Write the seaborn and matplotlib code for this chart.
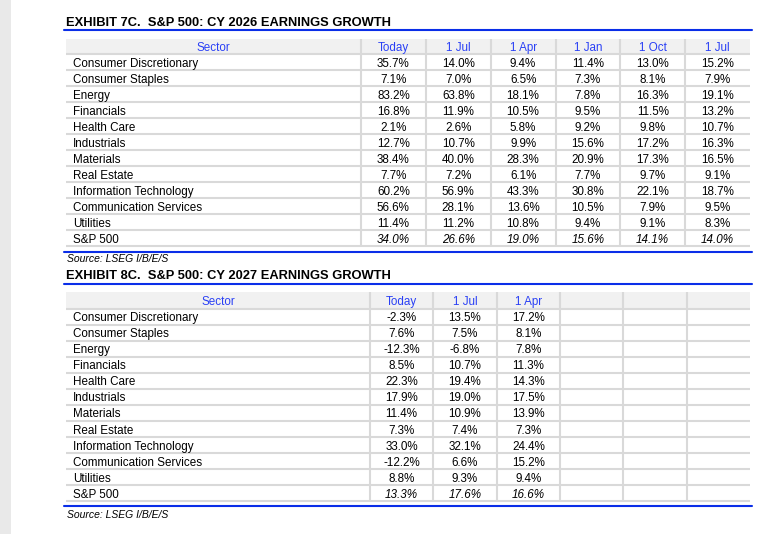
import numpy as np
import matplotlib
matplotlib.use("Agg")
import matplotlib.pyplot as plt
import seaborn as sns
from matplotlib.colors import ListedColormap
from matplotlib.lines import Line2D
from matplotlib.patches import Rectangle

#### Data #######

sectors = ["Consumer Discretionary", "Consumer Staples", "Energy", "Financials",
           "Health Care", "Industrials", "Materials", "Real Estate",
           "Information Technology", "Communication Services", "Utilities", "S&P 500"]

# CY 2026 earnings growth (%)
cols_2026 = ["Today", "1 Jul", "1 Apr", "1 Jan", "1 Oct", "1 Jul"]
today_2026 = [35.7, 7.1, 83.2, 16.8, 2.1, 12.7, 38.4, 7.7, 60.2, 56.6, 11.4, 34.0]
jul_2026 = [14.0, 7.0, 63.8, 11.9, 2.6, 10.7, 40.0, 7.2, 56.9, 28.1, 11.2, 26.6]
apr_2026 = [9.4, 6.5, 18.1, 10.5, 5.8, 9.9, 28.3, 6.1, 43.3, 13.6, 10.8, 19.0]
jan_2026 = [11.4, 7.3, 7.8, 9.5, 9.2, 15.6, 20.9, 7.7, 30.8, 10.5, 9.4, 15.6]
oct_2026 = [13.0, 8.1, 16.3, 11.5, 9.8, 17.2, 17.3, 9.7, 22.1, 7.9, 9.1, 14.1]
jul_prev_2026 = [15.2, 7.9, 19.1, 13.2, 10.7, 16.3, 16.5, 9.1, 18.7, 9.5, 8.3, 14.0]

# CY 2027 earnings growth (%)
cols_2027 = ["Today", "1 Jul", "1 Apr", "", "", ""]
today_2027 = [-2.3, 7.6, -12.3, 8.5, 22.3, 17.9, 11.4, 7.3, 33.0, -12.2, 8.8, 13.3]
jul_2027 = [13.5, 7.5, -6.8, 10.7, 19.4, 19.0, 10.9, 7.4, 32.1, 6.6, 9.3, 17.6]
apr_2027 = [17.2, 8.1, 7.8, 11.3, 14.3, 17.5, 13.9, 7.3, 24.4, 15.2, 9.4, 16.6]

title_2026 = "EXHIBIT 7C.  S&P 500: CY 2026 EARNINGS GROWTH"
title_2027 = "EXHIBIT 8C.  S&P 500: CY 2027 EARNINGS GROWTH"
source = "Source: LSEG I/B/E/S"

#### Style #######

W, H = 772, 534
RULE_BLUE = "#0a2ee8"
HEAD_BLUE = "#2a40f5"
GRID = "#d9d9d9"
HEAD_BG = "#f1f1f1"
FS = 8.4

sns.set_theme(style="white")
plt.rcParams["font.family"] = ["Liberation Sans", "DejaVu Sans"]
plt.rcParams["text.color"] = "black"

fig = plt.figure(figsize=(W / 100, H / 100), dpi=100)
fig.patch.set_facecolor("white")
fig.add_artist(Rectangle((0, 0), 11 / W, 1, transform=fig.transFigure,
                         color="#e9e9e9", lw=0))


def fx(px):
    return px / W


def fy(py):
    return 1 - py / H


def rule(y):
    fig.add_artist(Line2D([fx(64), fx(752)], [fy(y), fy(y)],
                          color=RULE_BLUE, lw=1.5))


def draw_table(top, first_line, last_line, sec_right, columns, series):
    """
    Table drawn as a seaborn heatmap with a sector column on the left
    """
    nrow, ncol = len(sectors), len(columns)
    grid = np.full((nrow, ncol), np.nan)
    for j, s in enumerate(series):
        grid[:, j] = s
    labels = np.array([["" if np.isnan(v) else f"{v:.1f}%" for v in row] for row in grid])

    row_px = (last_line - first_line) / nrow
    head = (first_line - top) / row_px
    col_px = (750 - sec_right) / ncol
    sec_w = (sec_right - 66) / col_px
    base = 3.3 / row_px  # baseline offset above the row line

    ax = fig.add_axes([fx(66), fy(last_line), fx(750) - fx(66), (last_line - top) / H])
    sns.heatmap(grid, ax=ax, cmap=ListedColormap(["white"]), cbar=False,
                annot=labels, fmt="", annot_kws={"fontsize": FS, "color": "black"},
                xticklabels=False, yticklabels=False)
    for t in ax.texts:
        x, y = t.get_position()
        t.set_position((x, y + 0.5 - base))
        t.set_va("baseline")
        if y > nrow - 1:
            t.set_fontstyle("italic")

    ax.set_xlim(-sec_w, ncol)
    ax.set_ylim(nrow, -head)
    ax.axis("off")

    ax.axhspan(-head, 0, color=HEAD_BG, lw=0, zorder=0)
    ax.hlines(np.arange(nrow + 1), -sec_w, ncol, color=GRID, lw=1.5, clip_on=False, zorder=1)
    ax.vlines(np.arange(ncol), -head, nrow, color=GRID, lw=1.5, clip_on=False, zorder=1)

    ax.text(-sec_w / 2, -base, "Sector", ha="center", va="baseline",
            fontsize=FS, color=HEAD_BLUE)
    for j, c in enumerate(columns):
        ax.text(j + 0.5, -base, c, ha="center", va="baseline", fontsize=FS, color=HEAD_BLUE)
    for i, s in enumerate(sectors):
        ax.text(-sec_w + 7 / col_px, i + 1 - base, s, ha="left", va="baseline",
                fontsize=FS, color="black")


# Exhibit 7C
fig.text(fx(66), fy(26), title_2026, fontsize=9.3, fontweight="bold",
         color="black", va="baseline")
rule(30)
draw_table(39, 54.3, 246, 361, cols_2026,
           [today_2026, jul_2026, apr_2026, jan_2026, oct_2026, jul_prev_2026])
rule(252)
fig.text(fx(67), fy(262.5), source, fontsize=7.45, fontstyle="italic",
         color="black", va="baseline")

# Exhibit 8C
fig.text(fx(66), fy(279), title_2027, fontsize=9.3, fontweight="bold",
         color="black", va="baseline")
rule(283.5)
draw_table(292, 308.5, 501, 370, cols_2027, [today_2027, jul_2027, apr_2027])
rule(506.2)
fig.text(fx(67), fy(517.5), source, fontsize=7.45, fontstyle="italic",
         color="black", va="baseline")

fig.savefig("out.png", dpi=100)
